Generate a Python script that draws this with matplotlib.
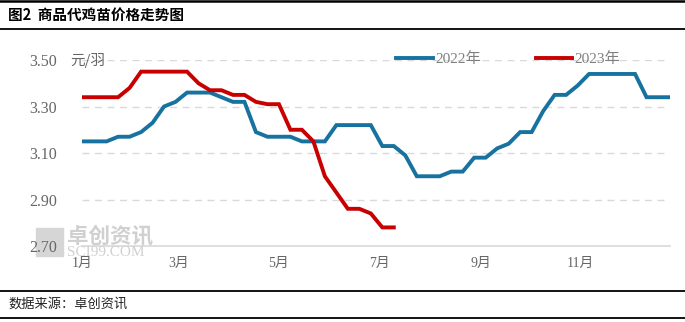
import numpy as np
import pandas as pd
import matplotlib
matplotlib.use('Agg')
import matplotlib.pyplot as plt
import matplotlib.dates as mdates
from matplotlib.lines import Line2D
from matplotlib.patches import Rectangle

plt.rcParams['font.family'] = ['Noto Sans CJK SC', 'DejaVu Sans']

# weekly quotes, 元/羽
weeks = pd.date_range('2022-01-02', periods=52, freq='7D')
price_2022 = [3.15, 3.15, 3.15, 3.17, 3.17, 3.19, 3.23, 3.30, 3.32, 3.36,
              3.36, 3.36, 3.34, 3.32, 3.32, 3.19, 3.17, 3.17, 3.17, 3.15,
              3.15, 3.15, 3.22, 3.22, 3.22, 3.22, 3.13, 3.13, 3.09, 3.00,
              3.00, 3.00, 3.02, 3.02, 3.08, 3.08, 3.12, 3.14, 3.19, 3.19,
              3.28, 3.35, 3.35, 3.39, 3.44, 3.44, 3.44, 3.44, 3.44, 3.34,
              3.34, 3.34]
price_2023 = [3.34, 3.34, 3.34, 3.34, 3.38, 3.45, 3.45, 3.45, 3.45, 3.45,
              3.40, 3.37, 3.37, 3.35, 3.35, 3.32, 3.31, 3.31, 3.20, 3.20,
              3.15, 3.00, 2.93, 2.86, 2.86, 2.84, 2.78, 2.78]
month_ticks = ['2022-01-01', '2022-03-01', '2022-05-01', '2022-07-01',
               '2022-09-01', '2022-11-01']
month_labels = ['1月', '3月', '5月', '7月', '9月', '11月']
y_ticks = [2.70, 2.90, 3.10, 3.30, 3.50]

blue = '#17729f'
red = '#c80000'
grey = '#666666'
num_font = ['Liberation Serif', 'Noto Sans CJK SC']

fig = plt.figure(figsize=(6.85, 3.22), dpi=100)
ax = fig.add_axes([0.1197, 0.236, 0.8584, 0.5776])

ax.plot(weeks, price_2022, color=blue, lw=2.8, label='2022年', solid_joinstyle='miter')
ax.plot(weeks[:len(price_2023)], price_2023, color=red, lw=2.8, label='2023年',
        solid_joinstyle='miter')

d0 = mdates.date2num(weeks[0])
d1 = mdates.date2num(weeks[-1])
ax.set_xlim(d0 - 0.6, d1 + 0.3)
ax.set_ylim(2.70, 3.50)
ax.set_yticks(y_ticks)
ax.set_yticklabels(['%.2f' % v for v in y_ticks], family=num_font,
                   fontsize=11.5, color=grey)
ax.set_xticks(mdates.date2num(pd.to_datetime(month_ticks)))
ax.set_xticklabels(month_labels, family=num_font, fontsize=10, color=grey)
ax.tick_params(length=0, pad=8)
ax.tick_params(axis='y', pad=18)

ax.grid(axis='y', color='#d9d9d9', linestyle=(0, (5, 4)), lw=1)
ax.set_axisbelow(True)
for s in ['top', 'right', 'left']:
    ax.spines[s].set_visible(False)
ax.spines['bottom'].set_color('#d9d9d9')
ax.spines['bottom'].set_linewidth(1.2)
# keep the bottom gridline off the axis line
ax.get_ygridlines()[0].set_visible(False)

ax.text(-0.02, 1.0, '元/羽', transform=ax.transAxes, fontsize=10.5,
        color=grey, va='center', ha='left')

leg = ax.legend(loc='center', bbox_to_anchor=(0.725, 1.005), ncol=2,
                frameon=False, handlelength=2.4, handletextpad=0.15,
                columnspacing=3.6, prop={'family': num_font, 'size': 11})
for t in leg.get_texts():
    t.set_color('#7f7f7f')

# watermark
fig.add_artist(Rectangle((36 / 685, 1 - 256 / 322), 27 / 685, 28 / 322,
                         transform=fig.transFigure, color='#d6d6d6', zorder=0))
fig.text(67 / 685, 1 - 236 / 322, '卓创资讯', fontsize=15.5, fontweight='bold',
         color='#d0d0d0', va='center', ha='left', zorder=0)
fig.text(67 / 685, 1 - 252 / 322, 'SCI99.COM', fontsize=11, family='Liberation Serif',
         color='#d0d0d0', va='center', ha='left', zorder=0)

# title and source frame
for y, w in [(1 - 1 / 322, 1.8), (1 - 29 / 322, 1.3), (1 - 291 / 322, 1.3), (1 - 318 / 322, 1.3)]:
    fig.add_artist(Line2D([0, 1], [y, y], transform=fig.transFigure, color='black', lw=w))
fig.text(8 / 685, 1 - 15 / 322, '图2  商品代鸡苗价格走势图', fontsize=10.5,
         fontweight='bold', va='center', ha='left', color='black')
fig.text(8 / 685, 1 - 304 / 322, '数据来源：卓创资讯', fontsize=9.5,
         va='center', ha='left', color='#222222')

fig.savefig('out.png', dpi=100)
